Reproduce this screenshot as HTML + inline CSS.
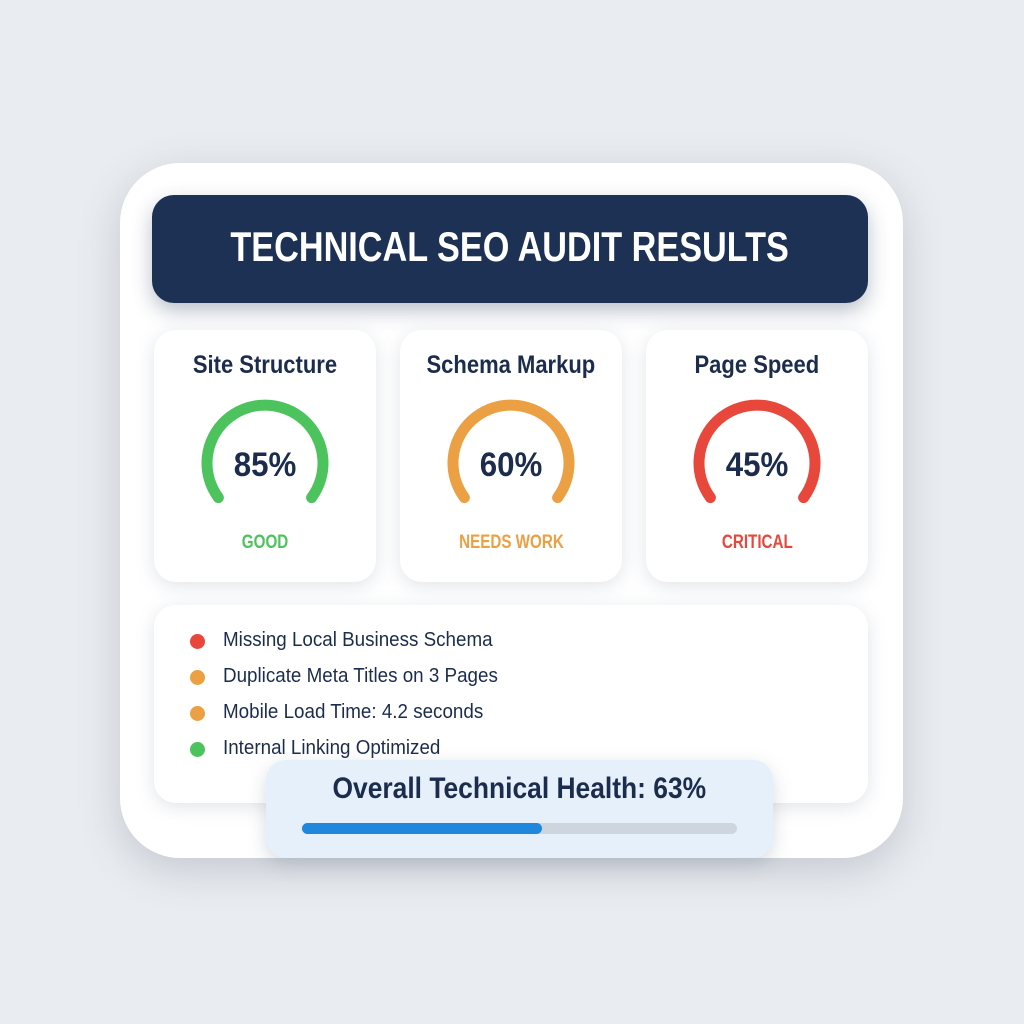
<!DOCTYPE html>
<html><head><meta charset="utf-8"><style>
*{margin:0;padding:0;box-sizing:border-box}
body{width:1024px;height:1024px;background:#e9ecf0;position:relative;overflow:hidden;font-family:"Liberation Sans",sans-serif;color:#1c2c4c}
.abs{position:absolute}
.s{display:inline-block;white-space:nowrap}
.outer{left:120px;top:163px;width:783px;height:695px;background:#fff;border-radius:60px;box-shadow:0 12px 40px rgba(90,100,120,.25)}
.hdr{left:152px;top:195px;width:716px;height:108px;background:#1c3153;border-radius:22px;box-shadow:0 8px 20px rgba(28,49,83,.3);color:#fff;font-weight:bold;font-size:42px;text-align:center;line-height:104px}
.card{top:330px;width:222px;height:252px;background:#fff;border-radius:22px;box-shadow:0 4px 18px rgba(120,130,150,.22);text-align:center}
.ttl{position:absolute;left:0;right:0;top:21px;font-size:25px;font-weight:bold;color:#1c2c4c}
.pct{position:absolute;left:0;right:0;top:116px;font-size:34px;font-weight:bold;color:#1c2c4c}
.lab{position:absolute;left:0;right:0;top:202px;font-size:19px;font-weight:bold}
svg.g{position:absolute;left:41px;top:69px}
.list{left:154px;top:605px;width:714px;height:198px;background:#fff;border-radius:22px;box-shadow:0 4px 18px rgba(120,130,150,.22)}
.it{position:absolute;left:69px;font-size:20px;color:#1c2c4c;transform:scaleX(.94);transform-origin:left center;white-space:nowrap}
.dot{position:absolute;left:36px;width:15px;height:15px;border-radius:50%}
.health{left:266px;top:760px;width:507px;height:98px;background:#e6f0fa;border-radius:20px;box-shadow:0 6px 18px rgba(100,110,130,.25);text-align:center}
</style></head><body>
<div class="abs outer"></div>
<div class="abs hdr"><span class="s" style="transform:scaleX(.815)">TECHNICAL SEO AUDIT RESULTS</span></div>

<div class="abs card" style="left:154px">
<div class="ttl"><span class="s" style="transform:scaleX(.88)">Site Structure</span></div>
<svg class="g" width="140" height="140" viewBox="0 0 140 140"><path d="M23.4 98.6 A58 58 0 1 1 116.6 98.6" fill="none" stroke="#4cc35d" stroke-width="11" stroke-linecap="round"/></svg>
<div class="pct"><span class="s" style="transform:scaleX(.92)">85%</span></div>
<div class="lab" style="color:#4cc35d"><span class="s" style="transform:scaleX(.8)">GOOD</span></div>
</div>
<div class="abs card" style="left:400px">
<div class="ttl"><span class="s" style="transform:scaleX(.88)">Schema Markup</span></div>
<svg class="g" width="140" height="140" viewBox="0 0 140 140"><path d="M23.4 98.6 A58 58 0 1 1 116.6 98.6" fill="none" stroke="#eba043" stroke-width="11" stroke-linecap="round"/></svg>
<div class="pct"><span class="s" style="transform:scaleX(.92)">60%</span></div>
<div class="lab" style="color:#eba043"><span class="s" style="transform:scaleX(.8)">NEEDS WORK</span></div>
</div>
<div class="abs card" style="left:646px">
<div class="ttl"><span class="s" style="transform:scaleX(.88)">Page Speed</span></div>
<svg class="g" width="140" height="140" viewBox="0 0 140 140"><path d="M23.4 98.6 A58 58 0 1 1 116.6 98.6" fill="none" stroke="#e8473b" stroke-width="11" stroke-linecap="round"/></svg>
<div class="pct"><span class="s" style="transform:scaleX(.92)">45%</span></div>
<div class="lab" style="color:#e8473b"><span class="s" style="transform:scaleX(.8)">CRITICAL</span></div>
</div>

<div class="abs list">
<div class="dot" style="top:29px;background:#e8473b"></div><div class="it" style="top:24px">Missing Local Business Schema</div>
<div class="dot" style="top:65px;background:#eba043"></div><div class="it" style="top:60px">Duplicate Meta Titles on 3 Pages</div>
<div class="dot" style="top:101px;background:#eba043"></div><div class="it" style="top:96px">Mobile Load Time: 4.2 seconds</div>
<div class="dot" style="top:137px;background:#4cc35d"></div><div class="it" style="top:132px">Internal Linking Optimized</div>
</div>

<div class="abs health">
<div style="position:absolute;left:0;right:0;top:12px;font-size:30px;font-weight:bold;color:#1c2c4c"><span class="s" style="transform:scaleX(.88)">Overall Technical Health: 63%</span></div>
<div style="position:absolute;left:36px;top:63px;width:435px;height:11px;border-radius:6px;background:#cfd5dd"></div>
<div style="position:absolute;left:36px;top:63px;width:240px;height:11px;border-radius:6px;background:#1f88dd"></div>
</div>
</body></html>
